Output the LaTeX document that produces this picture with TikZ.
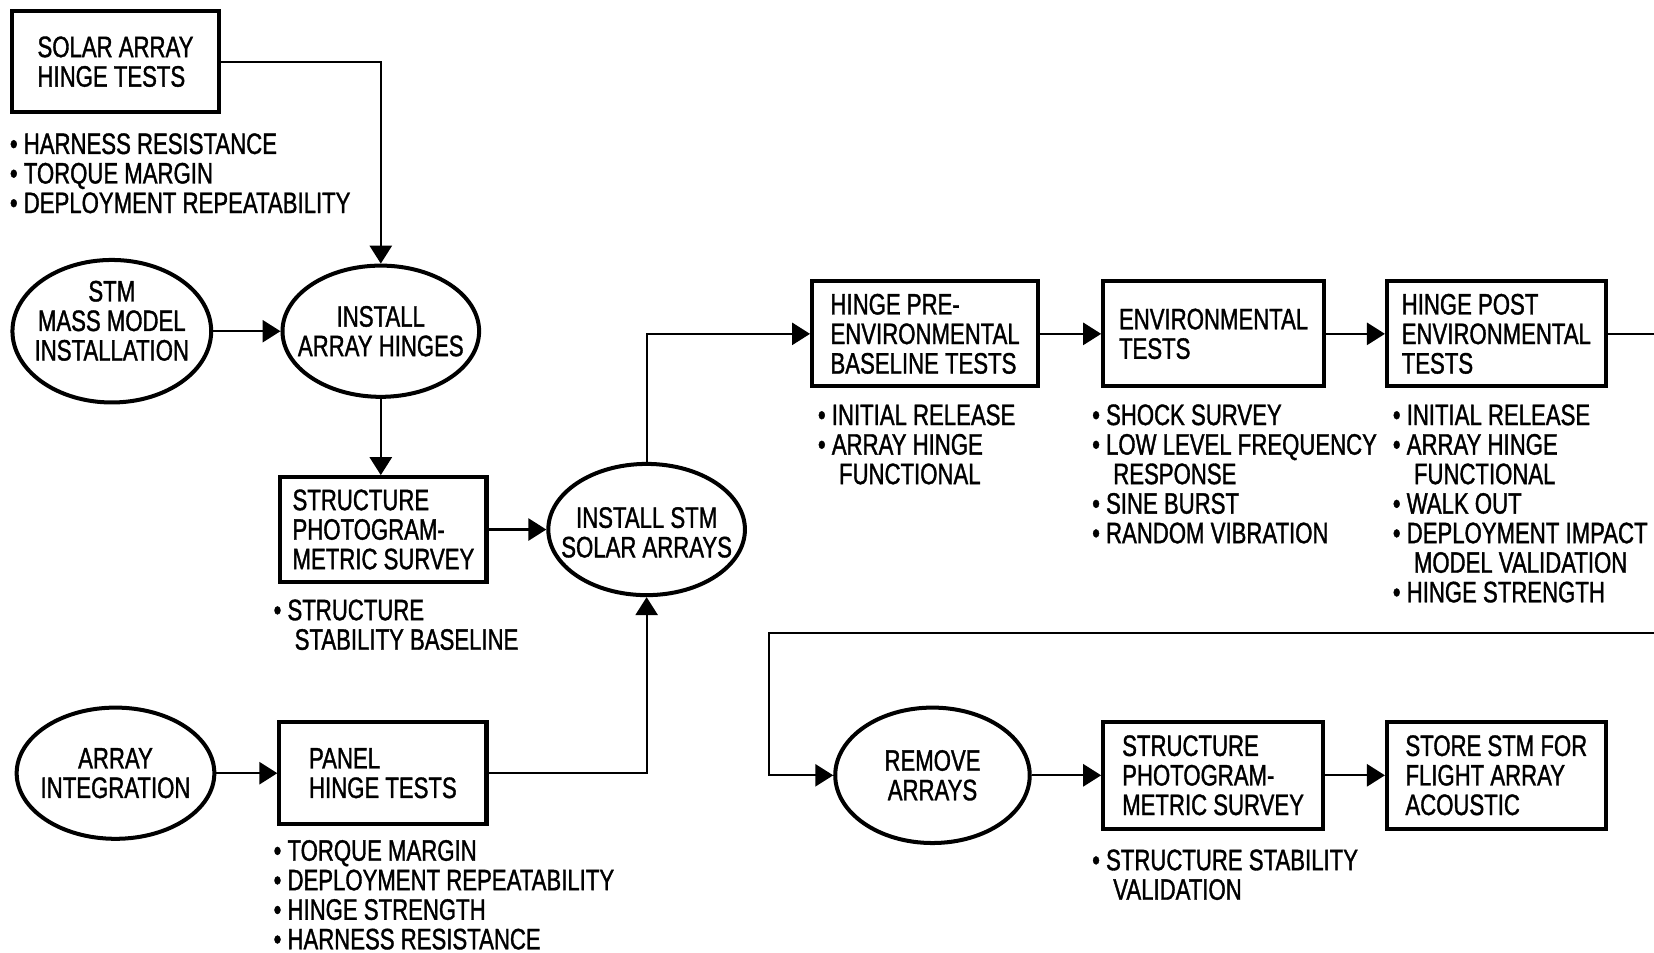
\documentclass[tikz,border=0pt]{standalone}
\usepackage{fontspec}
\setmainfont{Liberation Sans}[FakeStretch=0.75,FakeBold=1.2]
\usetikzlibrary{shapes.geometric,arrows.meta}
\newcommand{\itm}{\textbullet\ }
\newcommand{\cont}{\hspace*{10pt}}

\begin{document}
\begin{tikzpicture}[x=0.5pt,y=-0.5pt,font=\fontsize{14}{14}\selectfont,
    task/.style ={rectangle, draw, line width=1.9pt, align=left, inner sep=0pt},
    stage/.style ={ellipse, draw, line width=1.9pt, align=center, inner xsep=-12pt, inner ysep=0pt},
    notes/.style ={anchor=north west, align=left, inner sep=0pt},
    flow/.style ={line width=1pt, -{Triangle[length=8.5pt,width=10.5pt]}}]
   \useasboundingbox (0,0) rectangle (1568,903);
   \clip (0,0) rectangle (1568,903);
   \node[task, minimum width=97.7pt, minimum height=47.7pt] (sa) at (109.5,58.5) {SOLAR ARRAY\\HINGE TESTS};
   \node[notes] (n1) at (9,126) {\itm HARNESS RESISTANCE\\\itm TORQUE MARGIN\\\itm DEPLOYMENT REPEATABILITY};
   \node[stage, minimum width=94.2pt, minimum height=61.2pt, text depth=10pt] (stm) at (106,314) {STM\\MASS MODEL\\INSTALLATION};
   \node[stage, minimum width=93.2pt, minimum height=62.2pt] (ih) at (361,314) {INSTALL\\ARRAY HINGES};
   \node[task, minimum width=97.7pt, minimum height=49.7pt] (sp) at (363.5,502) {STRUCTURE\\PHOTOGRAM-\\METRIC SURVEY};
   \node[notes] (n2) at (259,568) {\itm STRUCTURE\\\cont STABILITY BASELINE};
   \node[stage, minimum width=93.2pt, minimum height=62.2pt, text height=26.5pt] (is) at (613,502) {INSTALL STM\\SOLAR ARRAYS};
   \node[stage, minimum width=93.7pt, minimum height=62.2pt] (ai) at (109.5,733) {ARRAY\\INTEGRATION};
   \node[task, minimum width=98.2pt, minimum height=48.2pt] (ph) at (363,733) {PANEL\\HINGE TESTS};
   \node[notes] (n3) at (259,796) {\itm TORQUE MARGIN\\\itm DEPLOYMENT REPEATABILITY\\\itm HINGE STRENGTH\\\itm HARNESS RESISTANCE};
   \node[task, minimum width=107.2pt, minimum height=49.7pt] (pre) at (877,316.5) {HINGE PRE-\\ENVIRONMENTAL\\BASELINE TESTS};
   \node[notes] (n4) at (775,383) {\itm INITIAL RELEASE\\\itm ARRAY HINGE\\\cont FUNCTIONAL};
   \node[task, minimum width=104.7pt, minimum height=49.7pt] (env) at (1150.5,316.5) {ENVIRONMENTAL\\TESTS};
   \node[notes] (n5) at (1035,383) {\itm SHOCK SURVEY\\\itm LOW LEVEL FREQUENCY\\\cont RESPONSE\\\itm SINE BURST\\\itm RANDOM VIBRATION};
   \node[task, minimum width=103.7pt, minimum height=49.7pt] (post) at (1418.5,316.5) {HINGE POST\\ENVIRONMENTAL\\TESTS};
   \node[notes] (n6) at (1320,383) {\itm INITIAL RELEASE\\\itm ARRAY HINGE\\\cont FUNCTIONAL\\\itm WALK OUT\\\itm DEPLOYMENT IMPACT\\\cont MODEL VALIDATION\\\itm HINGE STRENGTH};
   \node[stage, minimum width=92.2pt, minimum height=64.2pt] (rm) at (884,735) {REMOVE\\ARRAYS};
   \node[task, minimum width=104.2pt, minimum height=50.7pt] (sp2) at (1150,735) {STRUCTURE\\PHOTOGRAM-\\METRIC SURVEY};
   \node[notes] (n7) at (1035,805) {\itm STRUCTURE STABILITY\\\cont VALIDATION};
   \node[task, minimum width=103.7pt, minimum height=50.7pt] (st) at (1418.5,735) {STORE STM FOR\\FLIGHT ARRAY\\ACOUSTIC};
   \coordinate (out) at (1600,316.5);
   \coordinate (back) at (1600,600);
   \coordinate (turn) at (729,600);
   \draw[flow] (sa.east) -| (ih.north);
   \draw[flow] (stm.east) -- (ih.west);
   \draw[flow] (ih.south) -- (ih.south |- sp.north);
   \draw[flow] (sp.east) -- (is.west);
   \draw[flow] (ai.east) -- (ph.west);
   \draw[flow] (ph.east) -| (is.south);
   \draw[flow] (is.north) |- (pre.west);
   \draw[flow] (pre.east) -- (env.west);
   \draw[flow] (env.east) -- (post.west);
   \draw[line width=1pt] (post.east) -- (out);
   \draw[flow] (back) -- (turn) |- (rm.west);
   \draw[flow] (rm.east) -- (sp2.west);
   \draw[flow] (sp2.east) -- (st.west);
 \end{tikzpicture}
\end{document}
